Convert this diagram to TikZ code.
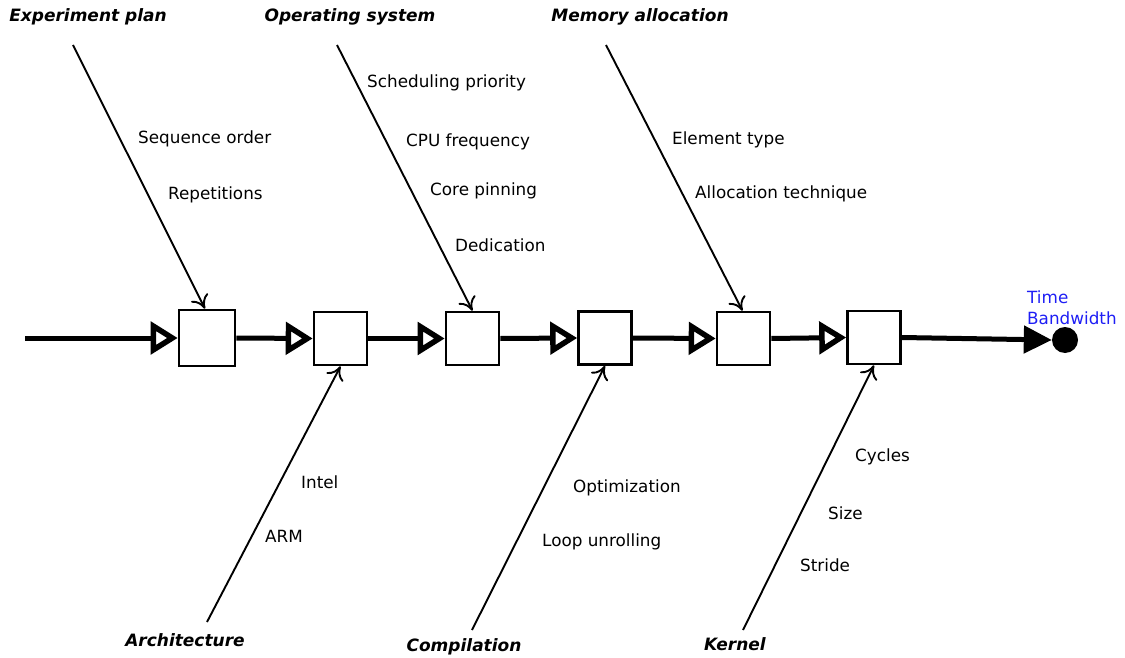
\documentclass[tikz,border=0pt]{standalone}
\usepackage{fontspec}
\setmainfont{DejaVu Sans}
\usetikzlibrary{arrows.meta}
\definecolor{outblue}{RGB}{30,30,245}
\tikzset{
  stage/.style={draw,line width=2.6pt,fill=white,minimum width=53pt,minimum height=53pt,inner sep=0pt},
  flow/.style={line width=5pt,-{Triangle[open,length=27pt,width=32pt,line width=5.5pt]}},
  cause/.style={line width=1.9pt,-{To[length=13pt,width=19pt,line width=1.9pt]}},
  cat/.style={font=\bfseries\itshape\fontsize{17}{20}\selectfont,inner sep=0pt},
  sub/.style={font=\fontsize{16.8}{20}\selectfont,anchor=west,inner sep=0pt},
}
\begin{document}
\begin{tikzpicture}[x=1pt,y=-1pt]
\useasboundingbox (0,0) rectangle (1125,658);
% stages
\node[stage,minimum width=56pt,minimum height=56pt] (b1) at (207,338) {};
\node[stage] (b2) at (340.5,338.5) {};
\node[stage] (b3) at (472.5,338.5) {};
\node[stage] (b4) at (605,338) {};
\node[stage] (b5) at (743.5,338.5) {};
\node[stage] (b6) at (874,337.5) {};
\coordinate (s0) at (25,338);
\coordinate (s1) at (90,338);
\node[circle,fill=black,minimum size=26pt,inner sep=0pt] (dot) at (1065,340) {};
\node[font=\fontsize{16.8}{21}\selectfont,text=outblue,anchor=north west,align=left,inner sep=0pt] (out) at (1027,291) {Time\\Bandwidth};
% main line
\draw[line width=5pt] (s0) -- (s1);
\draw[flow] (s1) -- (b1.west);
\draw[flow] (b1.east) -- (b2.west);
\draw[flow] (b2.east) -- (b3.west);
\draw[flow] (b3.east) -- (b4.west);
\draw[flow] (b4.east) -- (b5.west);
\draw[flow] (b5.east) -- (b6.west);
\draw[line width=5pt,-{Triangle[length=28pt,width=27pt]}] (b6.east) -- (dot.west);
% categories
\node[cat] (exp) at (88,17) {Experiment plan};
\node[cat] (os) at (350,17) {Operating system};
\node[cat] (mem) at (640,17) {Memory allocation};
\node[cat] (arch) at (185,640) {Architecture};
\node[cat] (comp) at (464,647) {Compilation};
\node[cat] (kern) at (735,644) {Kernel};
\coordinate (e0) at (73,45);
\coordinate (o0) at (337,45);
\coordinate (m0) at (606,45);
\coordinate (a0) at (207,622);
\coordinate (c0) at (472,630);
\coordinate (k0) at (743,630);
\draw[cause] (e0) -- ([xshift=-2pt]b1.north);
\draw[cause] (o0) -- (b3.north);
\draw[cause] (m0) -- ([xshift=-1pt]b5.north);
\draw[cause] (a0) -- (b2.south);
\draw[cause] (c0) -- (b4.south);
\draw[cause] (k0) -- (b6.south);
% sub-causes
\node[sub] (t1) at (138,139) {Sequence order};
\node[sub] (t2) at (168,195) {Repetitions};
\node[sub] (t3) at (367,83) {Scheduling priority};
\node[sub] (t4) at (406,142) {CPU frequency};
\node[sub] (t5) at (430,191) {Core pinning};
\node[sub] (t6) at (455,245) {Dedication};
\node[sub] (t7) at (672,140) {Element type};
\node[sub] (t8) at (695,194) {Allocation technique};
\node[sub] (t9) at (301,482) {Intel};
\node[sub] (t10) at (265,536) {ARM};
\node[sub] (t11) at (573,488) {Optimization};
\node[sub] (t12) at (542,542) {Loop unrolling};
\node[sub] (t13) at (855,457) {Cycles};
\node[sub] (t14) at (828,513) {Size};
\node[sub] (t15) at (800,565) {Stride};
\end{tikzpicture}
\end{document}
